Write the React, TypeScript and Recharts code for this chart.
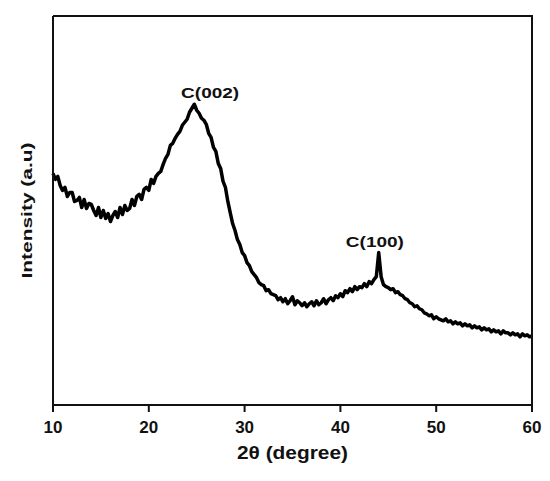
import { LineChart, Line, XAxis, YAxis, ReferenceDot } from 'recharts'

// scan grid of the diffractometer (degrees 2θ)
const scanStart = 10
const scanStep = 0.25

const intensityRows: number[][] = [
  [231, 225, 228, 219], // 10
  [214, 217, 208, 212], // 11
  [212, 203, 204, 207], // 12
  [197, 205, 196, 201], // 13
  [200, 194, 189, 197], // 14
  [187, 194, 186, 191], // 15
  [183, 189, 193, 187], // 16
  [197, 190, 199, 194], // 17
  [196, 205, 199, 208], // 18
  [210, 205, 215, 217], // 19
  [214, 225, 221, 228], // 20
  [231, 233, 240, 246], // 21
  [250, 259, 261, 266], // 22
  [270, 273, 279, 282], // 23
  [285, 292, 296, 300], // 24
  [294, 291, 286, 284], // 25
  [280, 271, 267, 257], // 26
  [253, 241, 236, 223], // 27
  [217, 203, 192, 181], // 28
  [174, 165, 160, 152], // 29
  [149, 142, 139, 133], // 30
  [130, 127, 122, 120], // 31
  [119, 114, 115, 111], // 32
  [110, 109, 105, 107], // 33
  [103, 106, 101, 104], // 34
  [108, 100, 104, 102], // 35
  [99, 102, 98, 101], // 36
  [103, 99, 104, 100], // 37
  [102, 106, 101, 105], // 38
  [107, 104, 109, 107], // 39
  [111, 108, 114, 112], // 40
  [116, 113, 118, 115], // 41
  [118, 117, 121, 118], // 42
  [123, 121, 125, 128], // 43
  [152, 128, 120, 118], // 44
  [117, 115, 116, 112], // 45
  [113, 110, 109, 106], // 46
  [105, 102, 101, 98], // 47
  [99, 96, 95, 92], // 48
  [91, 89, 90, 86], // 49
  [88, 86, 85, 84], // 50
  [86, 83, 84, 81], // 51
  [83, 81, 82, 79], // 52
  [81, 79, 80, 77], // 53
  [79, 77, 78, 75], // 54
  [77, 75, 76, 73], // 55
  [75, 73, 74, 71], // 56
  [74, 72, 72, 70], // 57
  [72, 70, 71, 68], // 58
  [71, 69, 70, 68], // 59
  [69], // 60
]

const xTicks = [10, 20, 30, 40, 50, 60]
const xDomain: [number, number] = [10, 60]
const yDomain: [number, number] = [0, 388]

const peakNames = ['C(002)', 'C(100)']
const peakLabelTheta = [26.4, 43.6]
const peakLabelIntensity = [306, 158]

const font = '"Liberation Sans", Arial, sans-serif'
const ink = '#111'

// layout
const W = 542
const H = 473
const margin = { top: 8, right: 18, bottom: 20, left: 0 }
const yAxisWidth = 45
const xAxisHeight = 56
const frameWidth = 2

const data = intensityRows.flat().map((intensity, i) => ({
  theta: scanStart + i * scanStep,
  intensity,
}))

const peaks = peakNames.map((name, i) => ({
  name,
  theta: peakLabelTheta[i],
  intensity: peakLabelIntensity[i],
}))

function XTitle({ viewBox }: any) {
  if (!viewBox) return null
  return (
    <text
      x={viewBox.x + viewBox.width / 2}
      y={viewBox.y + viewBox.height - 2}
      textAnchor="middle"
      fontFamily={font}
      fontWeight={700}
      fontSize={18}
      fill={ink}
      textLength={111}
      lengthAdjust="spacingAndGlyphs"
    >
      2θ (degree)
    </text>
  )
}

function YTitle({ viewBox }: any) {
  if (!viewBox) return null
  const x = viewBox.x + 23.5
  const y = viewBox.y + viewBox.height / 2
  return (
    <text
      x={x}
      y={y}
      transform={`rotate(-90, ${x}, ${y})`}
      textAnchor="middle"
      fontFamily={font}
      fontWeight={700}
      fontSize={15.5}
      fill={ink}
      textLength={136}
      lengthAdjust="spacingAndGlyphs"
    >
      Intensity (a.u)
    </text>
  )
}

function PeakName({ viewBox, value }: any) {
  if (!viewBox) return null
  return (
    <text
      x={viewBox.x + viewBox.width / 2}
      y={viewBox.y + viewBox.height / 2}
      textAnchor="middle"
      fontFamily={font}
      fontWeight={700}
      fontSize={15}
      fill={ink}
      textLength={58}
      lengthAdjust="spacingAndGlyphs"
    >
      {value}
    </text>
  )
}

export default function App() {
  const plotLeft = margin.left + yAxisWidth
  const plotTop = margin.top
  const plotWidth = W - plotLeft - margin.right
  const plotHeight = H - plotTop - margin.bottom - xAxisHeight

  return (
    <div style={{ position: 'relative', width: W, height: H }}>
      <LineChart width={W} height={H} data={data} margin={margin}>
        <XAxis
          dataKey="theta"
          type="number"
          domain={xDomain}
          ticks={xTicks}
          axisLine={{ stroke: ink, strokeWidth: frameWidth }}
          tickLine={{ stroke: ink, strokeWidth: 2 }}
          tickSize={7}
          tickMargin={9}
          tick={{ fill: ink, fontSize: 17, fontWeight: 700, fontFamily: font }}
          height={xAxisHeight}
          label={<XTitle />}
        />
        <YAxis
          type="number"
          domain={yDomain}
          tick={false}
          tickLine={false}
          axisLine={{ stroke: ink, strokeWidth: frameWidth }}
          width={yAxisWidth}
          label={<YTitle />}
        />
        <Line
          dataKey="intensity"
          type="linear"
          stroke="#000"
          strokeWidth={3.5}
          strokeLinejoin="round"
          dot={false}
          isAnimationActive={false}
        />
        {peaks.map((p) => (
          <ReferenceDot
            key={p.name}
            x={p.theta}
            y={p.intensity}
            r={1}
            fill="none"
            stroke="none"
            label={<PeakName value={p.name} />}
          />
        ))}
      </LineChart>
      {/* top and right edges of the plot frame */}
      <div
        style={{
          position: 'absolute',
          left: plotLeft,
          top: plotTop - frameWidth / 2,
          width: plotWidth + frameWidth / 2,
          height: plotHeight + frameWidth / 2,
          boxSizing: 'border-box',
          borderTop: `${frameWidth}px solid ${ink}`,
          borderRight: `${frameWidth}px solid ${ink}`,
          pointerEvents: 'none',
        }}
      />
    </div>
  )
}
